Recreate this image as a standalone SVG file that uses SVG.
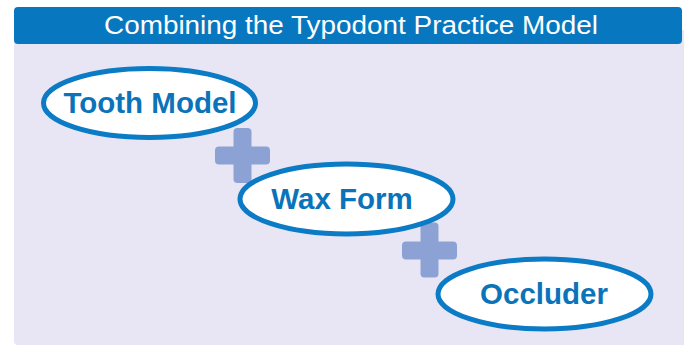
<svg xmlns="http://www.w3.org/2000/svg" width="684" height="346" viewBox="0 0 684 346">
<style>
.panel{fill:#E8E6F4}
.hdr{fill:#0778C0}
.title{font-family:"Liberation Sans",Arial,sans-serif;font-size:25.5px;fill:#FFFFFF}
.node ellipse{fill:#FFFFFF;stroke:#0A7BC4;stroke-width:5}
.node text{font-family:"Liberation Sans",Arial,sans-serif;font-weight:bold;font-size:29.5px;fill:#0A73B9;text-anchor:middle}
.plus{fill:#8CA2D5}
</style>
<rect class="panel" x="14" y="30" width="680" height="315" rx="4"/>
<rect class="hdr" x="14" y="7" width="668" height="37" rx="4"/>
<text class="title" x="104" y="34.3" textLength="494" lengthAdjust="spacingAndGlyphs">Combining the Typodont Practice Model</text>
<g id="connectors">
<g id="plus1" class="plus">
<rect x="215" y="146.5" width="55" height="18" rx="4"/>
<rect x="233.5" y="128" width="18" height="55" rx="4"/>
</g>
<g id="plus2" class="plus">
<rect x="402" y="241.5" width="55" height="18" rx="4"/>
<rect x="420.5" y="222.5" width="18" height="55" rx="4"/>
</g>
</g>
<g id="tooth-model" class="node">
<ellipse cx="149.5" cy="103" rx="106" ry="34.5"/>
<text x="150" y="113">Tooth Model</text>
</g>
<g id="wax-form" class="node">
<ellipse cx="346.5" cy="199" rx="106.5" ry="35"/>
<text x="342" y="209">Wax Form</text>
</g>
<g id="occluder" class="node">
<ellipse cx="544.5" cy="294" rx="106.5" ry="35"/>
<text x="544" y="304">Occluder</text>
</g>
</svg>
